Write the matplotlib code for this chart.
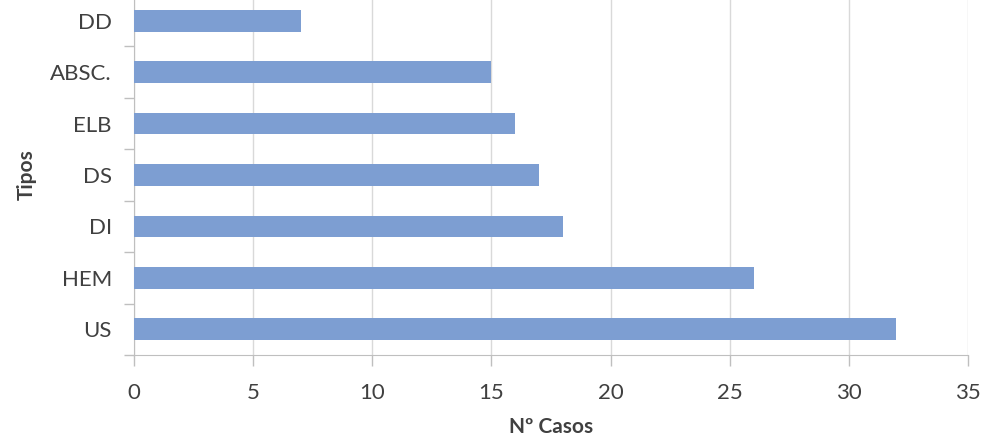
import matplotlib.pyplot as plt

# datos
tipos = ['US', 'HEM', 'DI', 'DS', 'ELB', 'ABSC.', 'DD']
casos = [32, 26, 18, 17, 16, 15, 7]
xticks = [0, 5, 10, 15, 20, 25, 30, 35]

plt.rcParams['font.family'] = ['Lato', 'DejaVu Sans']
txt = '#404040'
line_c = '#bfbfbf'

fig = plt.figure(figsize=(9.87, 4.38), dpi=100)
ax = fig.add_axes([0.1358, 0.1895, 0.8449, 0.8219])

ax.barh(range(len(tipos)), casos, height=0.42, color='#7d9ed2', zorder=3)

ax.set_xlim(0, 35)
ax.set_ylim(-0.5, len(tipos) - 0.5)
ax.set_xticks(xticks)
ax.set_yticks(range(len(tipos)))
ax.set_yticklabels(tipos)
# ticks del eje y entre categorias, como en Excel
ax.set_yticks([i - 0.5 for i in range(len(tipos) + 1)], minor=True)
ax.tick_params(axis='y', which='major', length=0, pad=16, labelsize=16, labelcolor=txt)
ax.tick_params(axis='y', which='minor', length=7, color=line_c, width=1)
ax.tick_params(axis='x', length=8, color=line_c, width=1, pad=12, labelsize=16, labelcolor=txt)

ax.grid(axis='x', color='#d9d9d9', linewidth=1, zorder=0)
for s in ['top', 'right']:
    ax.spines[s].set_visible(False)
for s in ['left', 'bottom']:
    ax.spines[s].set_color(line_c)

ax.set_xlabel('Nº Casos', fontsize=15, fontweight='bold', color=txt, labelpad=10)
ax.set_ylabel('Tipos', fontsize=15, fontweight='bold', color=txt, labelpad=10)

fig.savefig('out.png', dpi=100)
